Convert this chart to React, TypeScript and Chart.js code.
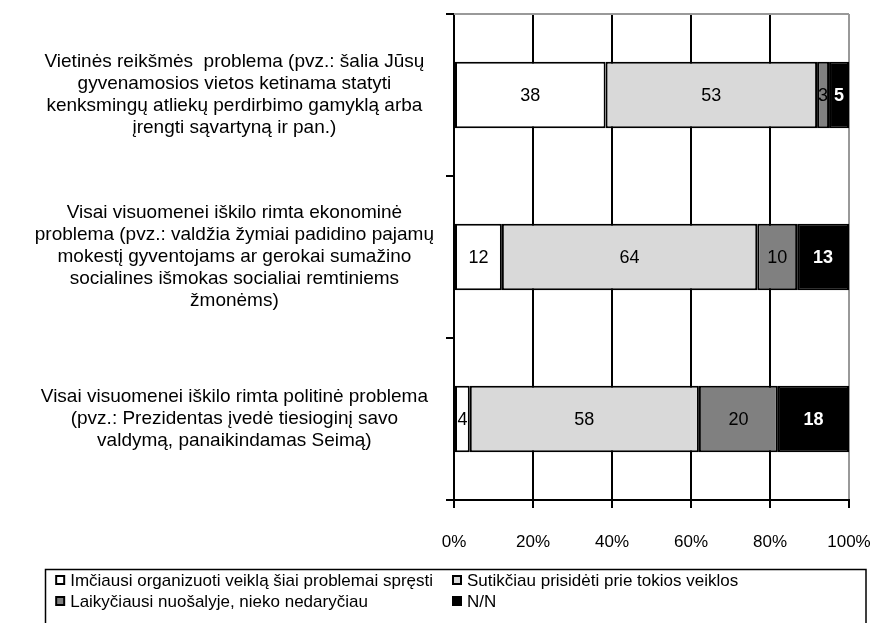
import React, { useEffect, useRef } from 'react';
import { Chart, registerables } from 'chart.js';

Chart.register(...registerables);

const categories: string[][] = [
  [
    'Vietinės reikšmės  problema (pvz.: šalia Jūsų',
    'gyvenamosios vietos ketinama statyti',
    'kenksmingų atliekų perdirbimo gamyklą arba',
    'įrengti sąvartyną ir pan.)',
  ],
  [
    'Visai visuomenei iškilo rimta ekonominė',
    'problema (pvz.: valdžia žymiai padidino pajamų',
    'mokestį gyventojams ar gerokai sumažino',
    'socialines išmokas socialiai remtiniems',
    'žmonėms)',
  ],
  [
    'Visai visuomenei iškilo rimta politinė problema',
    '(pvz.: Prezidentas įvedė tiesioginį savo',
    'valdymą, panaikindamas Seimą)',
  ],
];

const seriesNames = [
  'Imčiausi organizuoti veiklą šiai problemai spręsti',
  'Sutikčiau prisidėti prie tokios veiklos',
  'Laikyčiausi nuošalyje, nieko nedaryčiau',
  'N/N',
];

const organize = [38, 12, 4];
const join = [53, 64, 58];
const standAside = [3, 10, 20];
const noAnswer = [5, 13, 18];

const seriesColors = ['#ffffff', '#d9d9d9', '#808080', '#000000'];
const labelColors = ['#000000', '#000000', '#000000', '#ffffff'];

const xTickValues = [0, 20, 40, 60, 80, 100];

const FONT = "'Liberation Sans', Arial, sans-serif";

export default function App() {
  const canvasRef = useRef<HTMLCanvasElement | null>(null);

  useEffect(() => {
    const canvas = canvasRef.current;
    if (!canvas) return;

    const raw = [organize, join, standAside, noAnswer];
    const totals = categories.map((_, j) => raw.reduce((s, arr) => s + arr[j], 0));
    const normalized = raw.map((arr) => arr.map((v, j) => (v / totals[j]) * 100));

    const valueLabels = {
      id: 'valueLabels',
      afterDatasetsDraw(chart: any) {
        const ctx = chart.ctx;
        ctx.save();
        ctx.textAlign = 'center';
        ctx.textBaseline = 'middle';
        chart.data.datasets.forEach((ds: any, i: number) => {
          const meta = chart.getDatasetMeta(i);
          meta.data.forEach((bar: any, j: number) => {
            const p = bar.getProps(['x', 'y', 'base'], true);
            const cx = (p.x + p.base) / 2;
            ctx.font = (i === 3 ? 'bold ' : '') + '18px ' + FONT;
            ctx.fillStyle = labelColors[i];
            ctx.fillText(String(raw[i][j]), cx, p.y + 1);
          });
        });
        ctx.restore();
      },
    };

    const frame = {
      id: 'frame',
      beforeDatasetsDraw(chart: any) {
        const { ctx, chartArea } = chart;
        ctx.save();
        ctx.strokeStyle = '#999999';
        ctx.lineWidth = 2;
        ctx.beginPath();
        ctx.moveTo(chartArea.left, chartArea.top);
        ctx.lineTo(chartArea.right, chartArea.top);
        ctx.stroke();
        ctx.restore();
      },
    };

    const boxLegend = {
      id: 'boxLegend',
      afterDraw(chart: any) {
        const ctx = chart.ctx;
        ctx.save();
        ctx.textBaseline = 'middle';
        ctx.textAlign = 'left';
        ctx.font = '17px ' + FONT;
        const w0 = ctx.measureText(seriesNames[0]).width;
        const col2Box = 452;
        const col1Text = 433 - w0;
        const colBox = [col1Text - 15, col2Box];
        const colText = [col1Text, col2Box + 15];
        const rowY = [580, 601];
        const boxLeft = Math.round(colBox[0] - 10) + 0.5;
        ctx.strokeStyle = '#000';
        ctx.lineWidth = 1.5;
        ctx.strokeRect(boxLeft, 569.5, 866 - boxLeft, 70);
        seriesNames.forEach((name, k) => {
          const col = k % 2;
          const y = rowY[Math.floor(k / 2)];
          const x = colBox[col];
          ctx.fillStyle = '#000';
          ctx.fillRect(x, y - 5, 10, 10);
          ctx.fillStyle = seriesColors[k];
          ctx.fillRect(x + 2, y - 3, 6, 6);
          ctx.fillStyle = '#000';
          ctx.fillText(name, colText[col], y + 1);
        });
        ctx.restore();
      },
    };

    const chart = new Chart(canvas, {
      type: 'bar',
      data: {
        labels: categories,
        datasets: seriesNames.map((name, i) => ({
          label: name,
          data: normalized[i],
          backgroundColor: seriesColors[i],
          borderColor: '#000000',
          borderWidth: 2,
          borderSkipped: false,
          barPercentage: 0.41,
          categoryPercentage: 1,
        })),
      },
      options: {
        indexAxis: 'y',
        responsive: false,
        animation: false,
        layout: { padding: { left: 0, right: 21, top: 14, bottom: 73 } },
        plugins: {
          legend: { display: false },
          tooltip: { enabled: false },
        },
        scales: {
          x: {
            stacked: true,
            min: 0,
            max: 100,
            afterBuildTicks(scale: any) {
              scale.ticks = xTickValues.map((v) => ({ value: v }));
            },
            afterFit(scale: any) {
              scale.height = 50;
              scale.paddingLeft = 0;
              scale.paddingRight = 0;
            },
            ticks: {
              color: '#000',
              font: { family: FONT, size: 17 },
              padding: 24,
              maxRotation: 0,
              callback: (v: any) => v + '%',
            },
            grid: {
              color: (c: any) => (c.tick && c.tick.value === 100 ? '#999999' : '#000000'),
              tickColor: '#000000',
              lineWidth: 2,
              tickLength: 8,
            },
            border: { color: '#000000', width: 2 },
          },
          y: {
            stacked: true,
            afterFit(scale: any) {
              scale.width = 454;
              scale.paddingTop = 0;
              scale.paddingBottom = 0;
            },
            ticks: {
              color: '#000',
              font: { family: FONT, size: 19, lineHeight: 1.16 },
              crossAlign: 'center',
              padding: 12,
            },
            grid: {
              drawOnChartArea: false,
              tickColor: '#000000',
              color: '#000000',
              lineWidth: 2,
              tickLength: 8,
              offset: true,
            },
            border: { color: '#000000', width: 2 },
          },
        },
      } as any,
      plugins: [frame, valueLabels, boxLegend],
    });

    return () => chart.destroy();
  }, []);

  return (
    <div style={{ position: 'fixed', left: 0, top: 0, width: 870, height: 623, background: '#fff' }}>
      <canvas ref={canvasRef} width={870} height={623} style={{ display: 'block' }} />
    </div>
  );
}
